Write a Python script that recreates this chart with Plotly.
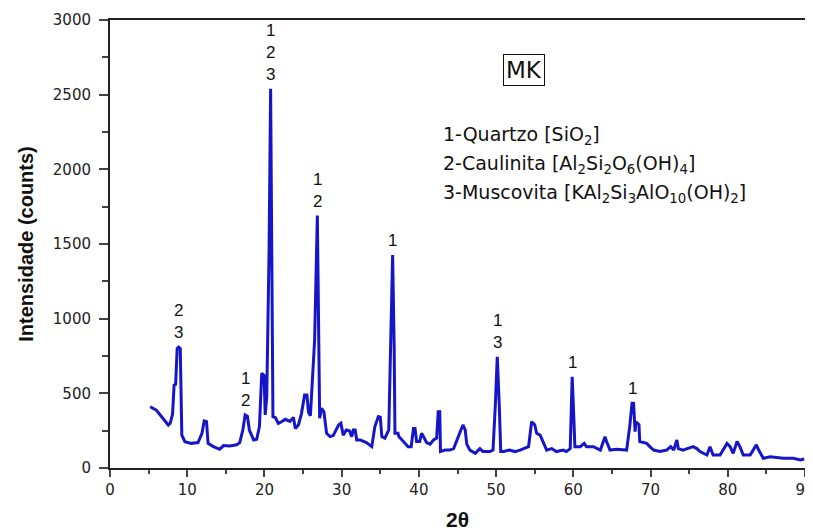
import plotly.graph_objects as go

# 2-theta positions and intensities (counts)
two_theta = [5.2, 5.6, 6.0, 6.5, 7.0, 7.55, 7.8, 8.1, 8.3, 8.5, 8.7, 8.9, 9.1, 9.2, 9.3, 9.7,
             10.5, 11.4, 11.9, 12.2, 12.5, 12.7, 13.4, 14.2, 14.7, 15.5, 16.4, 16.8, 17.2, 17.5,
             17.8, 18.05, 18.6, 19.0, 19.35, 19.5, 19.65, 19.95, 20.1, 20.3, 20.6, 20.8, 20.95,
             21.1, 21.4, 21.8, 22.2, 22.7, 23.3, 23.75, 24.0, 24.4, 24.8, 25.2, 25.5, 25.7, 25.95,
             26.2, 26.5, 26.85, 27.0, 27.15, 27.4, 27.7, 28.05, 28.5, 28.9, 29.6, 29.9, 30.2,
             30.6, 31.0, 31.3, 31.5, 31.75, 31.95, 32.4, 32.8, 33.2, 33.9, 34.3, 34.75, 35.0,
             35.2, 35.6, 36.1, 36.3, 36.6, 36.8, 36.9, 37.3, 37.4, 38.0, 38.6, 39.0, 39.3, 39.5,
             39.7, 40.1, 40.35, 40.6, 41.0, 41.45, 41.9, 42.3, 42.5, 42.7, 42.8, 43.4, 44.0,
             44.5, 45.1, 45.7, 46.0, 46.2, 46.6, 47.3, 47.9, 48.3, 49.2, 49.6, 49.9, 50.15,
             50.4, 50.6, 51.0, 51.7, 52.45, 53.1, 54.2, 54.6, 55.0, 55.25, 55.7, 56.1, 56.55,
             57.2, 57.8, 58.7, 59.1, 59.6, 59.85, 60.05, 60.2, 60.9, 61.4, 61.7, 62.6, 63.5,
             64.1, 64.3, 64.75, 65.6, 66.9, 67.3, 67.6, 67.8, 68.0, 68.1, 68.5, 68.6, 69.5,
             69.9, 70.4, 71.2, 72.1, 72.6, 73.0, 73.4, 73.6, 74.2, 75.5, 76.0, 76.4, 77.3,
             77.7, 78.1, 79.0, 79.9, 80.3, 80.7, 81.2, 81.6, 82.0, 82.9, 83.7, 84.0, 84.6,
             85.5, 87.2, 88.5, 89.4, 89.9]
intensity = [410, 400, 388, 355, 325, 288, 300, 360, 555, 560, 800, 810, 800, 500, 220, 176,
             165, 170, 230, 315, 310, 165, 143, 125, 150, 148, 155, 170, 254, 355,
             345, 254, 188, 192, 277, 455, 634, 620, 355, 478, 1460, 2540, 1460,
             344, 338, 299, 310, 326, 312, 339, 265, 288, 366, 489, 489, 375, 350,
             600, 857, 1690, 1002, 333, 400, 377, 232, 210, 217, 288, 300, 220,
             255, 250, 210, 255, 255, 188, 188, 177, 170, 143, 277, 344, 340,
             210, 200, 255, 800, 1426, 800, 232, 232, 210, 177, 143, 143, 265, 265,
             177, 177, 232, 210, 170, 160, 188, 200, 377, 377, 110, 120, 120,
             130, 210, 288, 255, 160, 120, 98, 130, 110, 110, 120, 422, 745,
             433, 110, 110, 120, 110, 120, 143, 310, 290, 232, 220, 177, 120,
             130, 110, 120, 110, 130, 610, 355, 143, 143, 165, 143, 143, 120,
             210, 177, 120, 125, 120, 277, 433, 433, 243, 310, 290, 177, 165,
             143, 120, 110, 120, 143, 120, 188, 130, 120, 143, 130, 110, 87,
             143, 87, 87, 165, 143, 98, 177, 140, 87, 87, 155, 120, 65,
             75, 65, 65, 54, 60]

# Peak phase labels
peak_x = [8.9, 17.6, 20.8, 26.85, 36.6, 50.15, 59.85, 67.6]
peak_y = [810, 355, 2540, 1690, 1426, 745, 610, 433]
peak_labels = ["2<br>3", "1<br>2", "1<br>2<br>3", "1<br>2", "1", "1<br>3", "1", "1"]

phase_lines = ["1-Quartzo [SiO<sub>2</sub>]",
               "2-Caulinita [Al<sub>2</sub>Si<sub>2</sub>O<sub>6</sub>(OH)<sub>4</sub>]",
               "3-Muscovita [KAl<sub>2</sub>Si<sub>3</sub>AlO<sub>10</sub>(OH)<sub>2</sub>]"]

fig = go.Figure()
fig.add_trace(go.Scatter(x=two_theta, y=intensity, mode="lines",
                         line=dict(color="#1616c8", width=3), showlegend=False))

for px_, py_, t in zip(peak_x, peak_y, peak_labels):
    fig.add_annotation(x=px_, y=py_, text=t, showarrow=False, xref="x", yref="y",
                       yanchor="bottom", yshift=3,
                       font=dict(family="Liberation Sans, Arial", size=17, color="#111"))

fig.add_annotation(x=(524 - 110) / 695, y=(468 - 70) / 448, xref="paper", yref="paper",
                   xanchor="center", yanchor="middle", text="MK", showarrow=False,
                   font=dict(family="DejaVu Sans", size=23, color="#111"),
                   bordercolor="#111", borderwidth=1, borderpad=2)

for i, t in enumerate(phase_lines):
    fig.add_annotation(x=(441 - 110) / 695, y=(468 - (135 + 29 * i)) / 448,
                       xref="paper", yref="paper", xanchor="left", yanchor="middle",
                       text=t, showarrow=False,
                       font=dict(family="DejaVu Sans", size=19, color="#111"))

fig.update_layout(
    width=813, height=532,
    margin=dict(l=102, r=16, t=12, b=72),
    paper_bgcolor="white", plot_bgcolor="white",
    xaxis=dict(range=[0, 90], dtick=10, ticks="outside", ticklen=7, tickwidth=1.5,
               tickcolor="#444", showline=True, linewidth=2, linecolor="#222", mirror=True,
               showgrid=False, zeroline=False, automargin=False,
               minor=dict(dtick=5, ticks="outside", ticklen=4, tickcolor="#444", showgrid=False),
               tickfont=dict(family="DejaVu Sans", size=15, color="#222"),
               title=dict(text="<b>2θ</b>", standoff=14,
                          font=dict(family="Liberation Sans, Arial", size=21, color="#111"))),
    yaxis=dict(range=[0, 3000], dtick=500, ticks="outside", ticklen=9, tickwidth=1.5,
               tickcolor="#444", showline=True, linewidth=2, linecolor="#222", mirror=True,
               showgrid=False, zeroline=False, automargin=False, ticklabelstandoff=5,
               minor=dict(dtick=250, ticks="outside", ticklen=6, tickcolor="#444", showgrid=False),
               tickfont=dict(family="DejaVu Sans", size=15, color="#222"),
               title=dict(text="<b>Intensidade (counts)</b>", standoff=14,
                          font=dict(family="Liberation Sans, Arial", size=20, color="#111"))),
)

fig.write_html("out.html")
